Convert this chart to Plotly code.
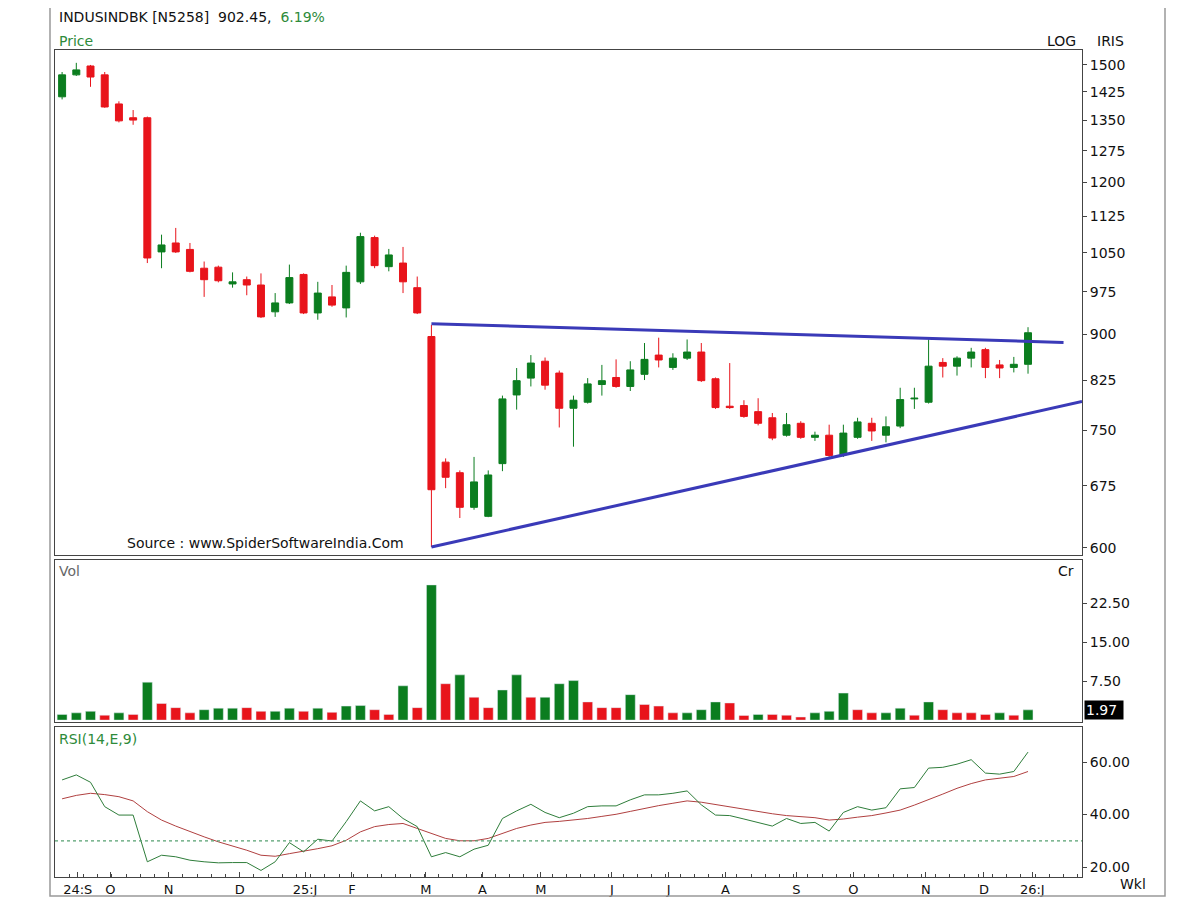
import plotly.graph_objects as go
from plotly.subplots import make_subplots

idx = list(range(1, 70))
opens = [1412,1472,1497,1472,1393,1357,1357,1052,1070,1057,1020,1022,990,998,988,939,955,1008,937,966,946,994,1081,1023,1030,983,
         896,706,692,648,637,704,802,828,855,836,782,791,818,829,815,834,865,845,860,870,
         827,785,786,777,768,743,760,740,743,716,740,760,743,756,796,791,853,847,860,874,849,845,850]
highs = [1480,1506,1500,1480,1400,1377,1360,1087,1101,1070,1033,1025,1012,1004,1010,973,1027,1010,994,988,1025,1091,1085,1058,1062,1004,
         916,711,695,713,695,801,844,865,861,840,801,828,849,858,855,885,894,868,891,885,
         829,852,794,797,775,775,763,748,758,758,768,768,770,813,813,891,860,863,877,877,857,862,912]
lows = [1405,1469,1439,1383,1345,1339,1030,1020,1050,1012,966,993,983,969,928,930,953,935,925,948,929,990,1020,1014,973,935,
        601,672,635,645,636,694,780,815,810,754,727,789,801,813,808,825,845,841,857,822,
        781,781,768,757,736,741,738,735,712,713,738,735,733,753,781,789,829,832,845,828,828,837,835]
closes = [1472,1486,1466,1385,1349,1351,1040,1066,1052,1014,998,996,994,988,930,955,1002,937,973,951,1012,1083,1025,1046,994,937,
          670,686,648,680,689,796,824,852,817,782,794,819,824,815,841,858,857,860,870,824,
          783,783,770,760,739,758,740,743,715,746,762,749,755,795,797,847,847,860,870,845,844,850,902.45]
volume = [1.1,1.4,1.7,0.95,1.4,1.1,7.3,3.2,2.4,1.4,2.0,2.3,2.3,2.4,1.7,1.7,2.3,1.7,2.3,1.5,2.7,2.8,2.0,1.1,6.6,2.4,
          26.0,7.0,8.7,4.4,2.4,5.8,8.7,4.4,4.4,7.0,7.6,3.5,2.4,2.4,4.9,3.0,2.7,1.4,1.4,2.0,3.5,3.3,0.9,1.1,1.1,0.95,0.6,
          1.4,1.7,5.2,2.0,1.4,1.4,2.3,0.95,3.5,2.0,1.4,1.4,1.1,1.4,0.95,1.97]
vol_up = "GGGRGRGRRRGGGRRGGRGRGGRRGRGRGRRGGRGGGRRRGRRRGGGRRGRRRGGGRRGGRGRRRRGRG"
rsi = [53.2,55.1,52.3,43,39.8,39.8,22,24.5,23.9,22.6,22,21.6,21.7,21.7,18.7,22,29.3,25.8,30.6,29.9,37.3,45.2,41.4,43,38.5,35.4,
       23.9,25.5,23.9,26.8,28.3,38.5,41.4,43.9,40.8,38.8,40.5,43,43.3,43.3,45.6,47.5,47.5,48.1,49,43.7,39.8,39.6,38.3,37,35.6,
       38.5,36.6,37,33.7,40.8,43,41.7,42.6,49.8,50.3,57.7,58,59.2,60.9,55.8,55.4,56.4,63.8]
rsi_sig = [46,47.3,48.1,47.6,46.8,45.2,41.1,37.9,35.6,33.4,31.5,29.6,28,26.4,24.5,24.1,25.1,26,27,28.1,30.2,33.4,35.4,36.2,36.6,34.7,
           32.8,30.9,30,30,30.9,32.8,34.7,36,37,37.4,37.9,38.5,39.3,40.1,41.2,42.4,43.4,44.3,45.2,44.7,43.8,43,42,41.1,40.3,
           39.6,39.2,38.8,37.9,38.3,39,39.6,40.6,41.7,43.6,45.6,47.8,50,51.8,53.2,53.8,54.5,56.4]
month_pos = [2.1,4.4,8.5,13.5,18.1,21.4,26.6,30.6,34.7,39.7,43.7,47.7,52.7,56.7,61.8,65.9,69.3]
month_lbl = ["24:S","O","N","D","25:J","F","M","A","M","J","J","A","S","O","N","D","26:J"]
price_ticks = list(range(600, 1501, 75))
upper_x, upper_y = [27, 71.5], [918, 886]
lower_x, lower_y = [27, 72.8], [601, 792]

GREEN, RED, BLUE = "#0b7d1f", "#e8141b", "#3a3ab8"

fig = make_subplots(rows=3, cols=1, shared_xaxes=True, vertical_spacing=0.006,
                    row_heights=[0.61, 0.196, 0.181])
fig.add_trace(go.Candlestick(x=idx, open=opens, high=highs, low=lows, close=closes,
                             increasing=dict(line=dict(color=GREEN, width=1), fillcolor=GREEN),
                             decreasing=dict(line=dict(color=RED, width=1), fillcolor=RED),
                             whiskerwidth=0, showlegend=False), 1, 1)
fig.add_trace(go.Scatter(x=upper_x, y=upper_y, mode="lines", line=dict(color=BLUE, width=3), showlegend=False), 1, 1)
fig.add_trace(go.Scatter(x=lower_x, y=lower_y, mode="lines", line=dict(color=BLUE, width=3), showlegend=False), 1, 1)
fig.add_trace(go.Bar(x=idx, y=volume, marker_color=[GREEN if c == "G" else RED for c in vol_up],
                     width=0.7, showlegend=False), 2, 1)
fig.add_trace(go.Scatter(x=idx, y=rsi_sig, mode="lines", line=dict(color="#b04040", width=1), showlegend=False), 3, 1)
fig.add_trace(go.Scatter(x=idx, y=rsi, mode="lines", line=dict(color="#2e7d3a", width=1), showlegend=False), 3, 1)
fig.add_hline(y=30, line=dict(color="#55a070", width=1.2, dash="dot"), row=3, col=1)

axfont = dict(family="DejaVu Sans", size=14, color="#111")
common = dict(showgrid=False, zeroline=False, showline=True, linecolor="#444", linewidth=1, mirror=True)
fig.update_xaxes(range=[0.5, 72.8], rangeslider_visible=False, ticks="", showticklabels=False, **common)
fig.update_xaxes(row=3, col=1, showticklabels=True, tickvals=month_pos, ticktext=month_lbl, ticks="inside",
                 ticklen=5, tickfont=dict(family="DejaVu Sans", size=13, color="#111"),
                 ticklabelstandoff=0, minor=dict(ticks="inside", dtick=1, tick0=0.5, ticklen=3))
fig.update_yaxes(side="right", ticks="outside", ticklen=4, tickfont=axfont, **common)
fig.update_yaxes(row=1, col=1, type="log", range=[2.7723, 3.1884], tickvals=price_ticks,
                 ticktext=[str(v) for v in price_ticks])
fig.update_yaxes(row=2, col=1, range=[-0.4, 30.8], tickvals=[7.5, 15, 22.5], ticktext=["7.50", "15.00", "22.50"])
fig.update_yaxes(row=3, col=1, range=[16.2, 73.3], tickvals=[20, 40, 60], ticktext=["20.00", "40.00", "60.00"])

fig.update_layout(width=1200, height=900, margin=dict(l=47, r=126, t=42, b=31, autoexpand=False),
                  plot_bgcolor="white", paper_bgcolor="white", bargap=0.3,
                  font=dict(family="DejaVu Sans", size=14, color="#111"))

def txt(x, y, s, color="#111", size=14, xanchor="left", **kw):
    fig.add_annotation(x=x, y=y, xref="paper", yref="paper", text=s, showarrow=False,
                       font=dict(family="DejaVu Sans", size=size, color=color), xanchor=xanchor, yanchor="middle", **kw)

def py(pixel_y):
    return (877 - pixel_y) / 827

def px(pixel_x):
    return (pixel_x - 55) / (1082 - 55)

txt(px(57), py(17), "INDUSINDBK [N5258]  902.45,  <span style='color:#2e8b3a'>6.19%</span>")
txt(px(57), py(41), "Price", color="#2e8b3a")
txt(px(1045), py(41), "LOG")
txt(px(1095), py(41), "IRIS")
txt(px(57), py(571), "Vol", color="#666")
txt(px(1056), py(571), "Cr")
txt(px(57), py(739), "RSI(14,E,9)", color="#2e8b3a")
txt(px(1118), py(884), "Wkl")
txt(px(125), py(543), "Source : www.SpiderSoftwareIndia.Com", size=14)
fig.add_annotation(x=1.0, xref="paper", y=902.45, yref="y", text="902.45", showarrow=False, xanchor="left",
                   font=dict(family="DejaVu Sans", size=14, color="white"), bgcolor="black", xshift=2)
fig.add_annotation(x=1.0, xref="paper", y=1.97, yref="y2", text="1.97 ", showarrow=False, xanchor="left",
                   font=dict(family="DejaVu Sans", size=14, color="white"), bgcolor="black", xshift=2)
fig.add_shape(type="rect", xref="paper", yref="paper", x0=px(50), x1=px(1165), y0=py(896), y1=py(4),
              line=dict(color="#999", width=1.5))

fig.write_html("out.html")
